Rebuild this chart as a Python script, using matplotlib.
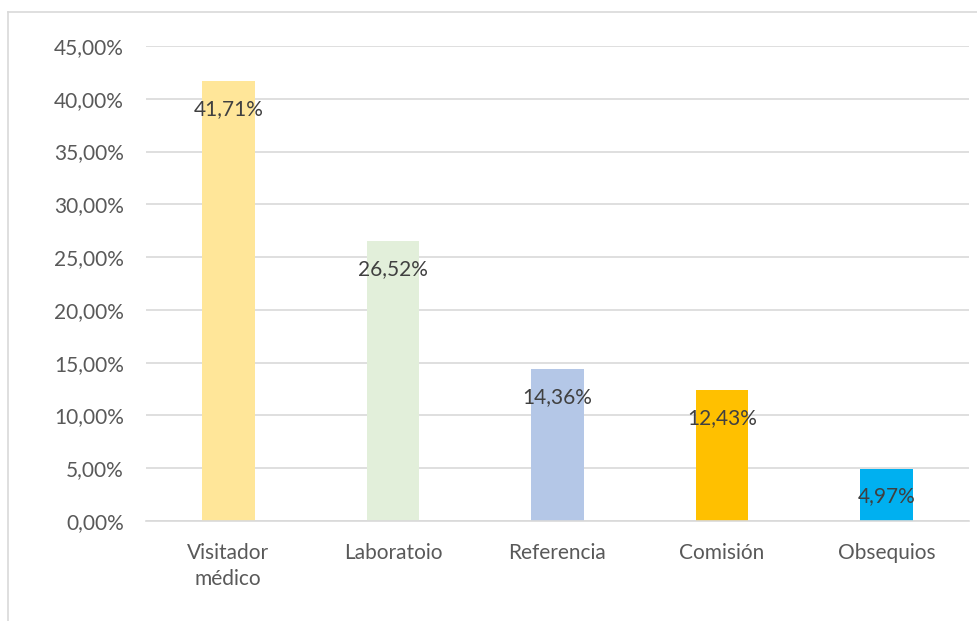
import matplotlib.pyplot as plt
from matplotlib.lines import Line2D
from matplotlib.ticker import FuncFormatter

categorias = ['Visitador\nmédico', 'Laboratoio', 'Referencia', 'Comisión', 'Obsequios']
valores = [41.71, 26.52, 14.36, 12.43, 4.97]
colores = ['#FFE699', '#E2EFDA', '#B4C7E7', '#FFC000', '#00B0F0']

plt.rcParams['font.family'] = ['Lato', 'DejaVu Sans']

W, H = 978, 621
fig = plt.figure(figsize=(W / 100, H / 100), dpi=100)
ax = fig.add_axes([146 / W, (H - 521) / H, (969 - 146) / W, (521 - 46) / H])

x = range(len(categorias))
ax.bar(x, valores, width=0.32, color=colores, zorder=2)

for i, v in enumerate(valores):
    ax.annotate(f'{v:.2f}%'.replace('.', ','), (i, v), xytext=(0, -28),
                textcoords='offset pixels',
                ha='center', va='center', fontsize=15, color='#404040', zorder=3)

ax.set_xlim(-0.5, 4.5)
ax.set_ylim(0, 45)
ax.set_yticks(range(0, 46, 5))
ax.yaxis.set_major_formatter(FuncFormatter(lambda v, p: f'{v:.2f}%'.replace('.', ',')))
ax.set_xticks(list(x))
ax.set_xticklabels(categorias, linespacing=1.35)
ax.grid(axis='y', color='#D9D9D9', linewidth=1.2, zorder=0)
for s in ['top', 'right', 'left']:
    ax.spines[s].set_visible(False)
ax.spines['bottom'].set_color('#D9D9D9')
ax.spines['bottom'].set_linewidth(1.2)
ax.tick_params(length=0, labelsize=15, labelcolor='#595959')
ax.tick_params(axis='x', pad=16)
ax.tick_params(axis='y', pad=16)

# marco del gráfico
fig.add_artist(Line2D([8 / W, 8 / W], [0, (H - 12) / H], color='#D9D9D9', lw=1.2))
fig.add_artist(Line2D([8 / W, 1], [(H - 12) / H, (H - 12) / H], color='#D9D9D9', lw=1.2))

fig.savefig('out.png', dpi=100)
